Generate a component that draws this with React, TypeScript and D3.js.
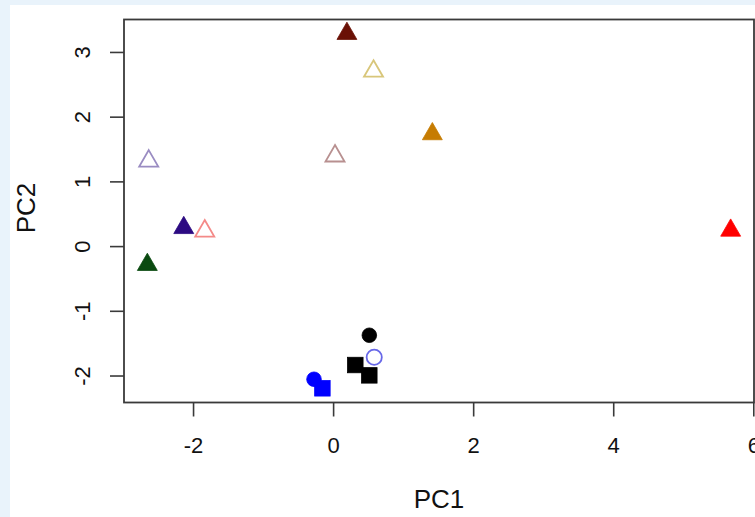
import React from "react";
import * as d3 from "d3";

// PCA scores
const pc1Values = [0.19, 0.57, 1.41, 0.02, -2.64, -2.14, -1.84, -2.66, 5.67, 0.51, 0.58, 0.31, 0.51, -0.28, -0.16];
const pc2Values = [3.29, 2.71, 1.74, 1.40, 1.32, 0.29, 0.24, -0.28, 0.25, -1.37, -1.71, -1.83, -1.99, -2.05, -2.19];
const sampleGroups = ["s1", "s2", "s3", "s4", "s5", "s6", "s7", "s8", "s9", "c1", "c2", "q1", "q1", "b1", "b2"];
const xTicks = [-2, 0, 2, 4, 6];
const yTicks = [-2, -1, 0, 1, 2, 3];

// marker style per group
const groupStyle: Record<string, { shape: string; color: string; filled: boolean }> = {
  s1: { shape: "triangle", color: "#6a1005", filled: true },
  s2: { shape: "triangle", color: "#d8c67a", filled: false },
  s3: { shape: "triangle", color: "#c67c02", filled: true },
  s4: { shape: "triangle", color: "#b89090", filled: false },
  s5: { shape: "triangle", color: "#9a8cc2", filled: false },
  s6: { shape: "triangle", color: "#2c0a82", filled: true },
  s7: { shape: "triangle", color: "#f48a88", filled: false },
  s8: { shape: "triangle", color: "#0a4a10", filled: true },
  s9: { shape: "triangle", color: "#ff0000", filled: true },
  c1: { shape: "circle", color: "#000000", filled: true },
  c2: { shape: "circle", color: "#6868e8", filled: false },
  q1: { shape: "square", color: "#000000", filled: true },
  b1: { shape: "circle", color: "#0000ff", filled: true },
  b2: { shape: "square", color: "#0000ff", filled: true },
};

const W = 755;
const H = 517;
const left = 124;
const right = 754;
const top = 19.5;
const bottom = 402.5;

function padExtent(vals: number[]): [number, number] {
  const [a, b] = d3.extent(vals) as [number, number];
  const p = (b - a) * 0.04;
  return [a - p, b + p];
}

export default function App() {
  const x = d3.scaleLinear().domain(padExtent(pc1Values)).range([left, right]);
  const y = d3.scaleLinear().domain(padExtent(pc2Values)).range([bottom, top]);
  const font = "'Liberation Sans', Arial, Helvetica, sans-serif";

  const marker = (i: number) => {
    const st = groupStyle[sampleGroups[i]];
    const cx = x(pc1Values[i]);
    const cy = y(pc2Values[i]);
    const fill = st.filled ? st.color : "none";
    const stroke = st.color;
    const sw = st.filled ? 0.8 : 1.8;
    if (st.shape === "triangle") {
      const r = st.filled ? 11.5 : 11;
      const xc = (Math.sqrt(3) / 2) * r;
      const pts = `${cx},${cy - r} ${cx + xc},${cy + r / 2} ${cx - xc},${cy + r / 2}`;
      return <polygon key={i} points={pts} fill={fill} stroke={stroke} strokeWidth={sw} strokeLinejoin="miter" />;
    }
    if (st.shape === "circle") {
      const r = st.filled ? 7.3 : 7.6;
      return <circle key={i} cx={cx} cy={cy} r={r} fill={fill} stroke={stroke} strokeWidth={sw} />;
    }
    const s = 15.5;
    return <rect key={i} x={cx - s / 2} y={cy - s / 2} width={s} height={s} fill={fill} stroke={stroke} strokeWidth={sw} />;
  };

  return (
    <svg width={W} height={H} style={{ position: "absolute", left: 0, top: 0 }}>
      <rect x={0} y={0} width={W} height={H} fill="#e9f3fb" />
      <rect x={10} y={5} width={W - 10} height={H - 5} fill="#ffffff" />
      {/* plot box */}
      <rect x={left} y={top} width={right - left} height={bottom - top} fill="none" stroke="#3a3a3a" strokeWidth={1.8} />
      {/* x axis ticks */}
      {xTicks.map((t) => (
        <g key={"x" + t}>
          <line x1={x(t)} x2={x(t)} y1={bottom} y2={bottom + 14} stroke="#3a3a3a" strokeWidth={1.6} />
          <text x={x(t)} y={453} fontSize={22} fontFamily={font} textAnchor="middle" fill="#111">
            {t}
          </text>
        </g>
      ))}
      {/* y axis ticks */}
      {yTicks.map((t) => (
        <g key={"y" + t}>
          <line x1={left - 14} x2={left} y1={y(t)} y2={y(t)} stroke="#3a3a3a" strokeWidth={1.6} />
          <text
            transform={`translate(90,${y(t)}) rotate(-90)`}
            fontSize={22}
            fontFamily={font}
            textAnchor="middle"
            fill="#111"
          >
            {t}
          </text>
        </g>
      ))}
      <text x={(left + right) / 2} y={508} fontSize={26} fontFamily={font} textAnchor="middle" fill="#111">
        PC1
      </text>
      <text
        transform={`translate(35,${(top + bottom) / 2 - 3}) rotate(-90)`}
        fontSize={26}
        fontFamily={font}
        textAnchor="middle"
        fill="#111"
      >
        PC2
      </text>
      {pc1Values.map((_, i) => marker(i))}
    </svg>
  );
}
